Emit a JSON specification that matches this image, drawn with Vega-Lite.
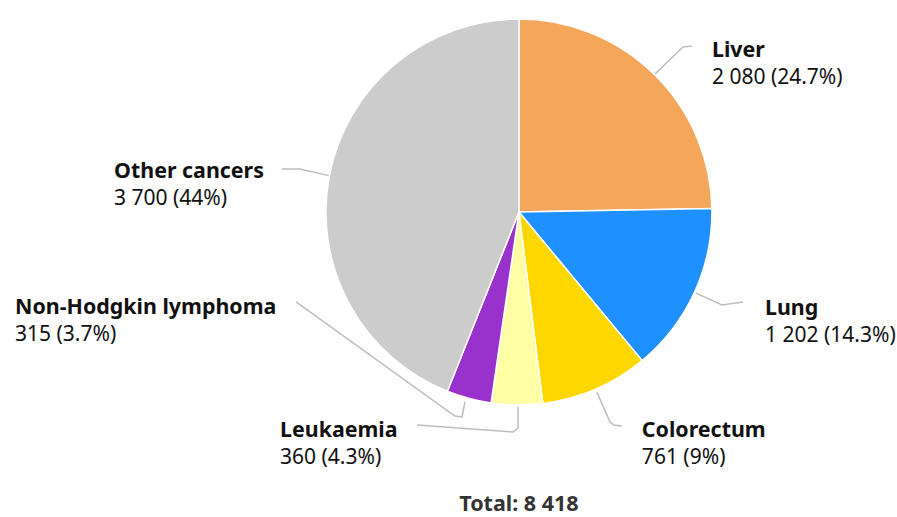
{
  "$schema": "https://vega.github.io/schema/vega-lite/v6.json",
  "width": 897,
  "height": 517,
  "padding": 0,
  "autosize": "none",
  "background": "white",
  "config": {"view": {"stroke": null}, "font": "Noto Sans"},
  "datasets": {
    "slices": [
      {"idx": 1, "name": "Liver", "value": 2080},
      {"idx": 2, "name": "Lung", "value": 1202},
      {"idx": 3, "name": "Colorectum", "value": 761},
      {"idx": 4, "name": "Leukaemia", "value": 360},
      {"idx": 5, "name": "Non-Hodgkin lymphoma", "value": 315},
      {"idx": 6, "name": "Other cancers", "value": 3700}
    ],
    "labels": [
      {"name": "Liver", "detail": "2 080 (24.7%)", "lx": 100.0, "ly": 80.3},
      {"name": "Lung", "detail": "1 202 (14.3%)", "lx": 127.5, "ly": -53.4},
      {"name": "Colorectum", "detail": "761 (9%)", "lx": 63.7, "ly": -116.6},
      {"name": "Leukaemia", "detail": "360 (4.3%)", "lx": -123.8, "ly": -116.6},
      {"name": "Non-Hodgkin lymphoma", "detail": "315 (3.7%)", "lx": -261.1, "ly": -52.8},
      {"name": "Other cancers", "detail": "3 700 (44%)", "lx": -209.8, "ly": 17.6}
    ],
    "leaders": [
      {"name": "Liver", "k": 1, "px": 70.5, "py": 71.5},
      {"name": "Liver", "k": 2, "px": 85.0, "py": 85.5},
      {"name": "Liver", "k": 3, "px": 89.6, "py": 86.0},
      {"name": "Lung", "k": 1, "px": 91.7, "py": -42.0},
      {"name": "Lung", "k": 2, "px": 105.2, "py": -48.2},
      {"name": "Lung", "k": 3, "px": 116.1, "py": -46.6},
      {"name": "Colorectum", "k": 1, "px": 40.4, "py": -93.3},
      {"name": "Colorectum", "k": 2, "px": 47.2, "py": -108.8},
      {"name": "Colorectum", "k": 3, "px": 49.2, "py": -110.4},
      {"name": "Colorectum", "k": 4, "px": 53.4, "py": -110.9},
      {"name": "Leukaemia", "k": 1, "px": -0.5, "py": -101.0},
      {"name": "Leukaemia", "k": 2, "px": -0.5, "py": -111.9},
      {"name": "Leukaemia", "k": 3, "px": -3.1, "py": -114.0},
      {"name": "Leukaemia", "k": 4, "px": -52.8, "py": -110.4},
      {"name": "Non-Hodgkin lymphoma", "k": 1, "px": -115.5, "py": -46.6},
      {"name": "Non-Hodgkin lymphoma", "k": 2, "px": -33.2, "py": -105.7},
      {"name": "Non-Hodgkin lymphoma", "k": 3, "px": -29.5, "py": -106.2},
      {"name": "Non-Hodgkin lymphoma", "k": 4, "px": -28.0, "py": -98.4},
      {"name": "Other cancers", "k": 1, "px": -122.8, "py": 22.3},
      {"name": "Other cancers", "k": 2, "px": -113.5, "py": 22.3},
      {"name": "Other cancers", "k": 3, "px": -97.9, "py": 18.7}
    ],
    "total": [{"label": "Total: 8 418", "tx": 0, "ty": -154.7}]
  },
  "layer": [
    {
      "data": {"name": "leaders"},
      "mark": {"type": "line", "color": "#BDBDBD", "strokeWidth": 1.5},
      "encoding": {
        "x": {"field": "px", "type": "quantitative", "scale": {"domain": [-268.9, 195.9], "nice": false, "zero": false}, "axis": null},
        "y": {"field": "py", "type": "quantitative", "scale": {"domain": [-158.0, 109.8], "nice": false, "zero": false}, "axis": null},
        "detail": {"field": "name"},
        "order": {"field": "k"}
      }
    },
    {
      "data": {"name": "slices"},
      "mark": {"type": "arc", "radius": 193, "stroke": "white", "strokeWidth": 1.5},
      "encoding": {
        "x": {"datum": 0, "type": "quantitative"},
        "y": {"datum": 0, "type": "quantitative"},
        "theta": {"field": "value", "type": "quantitative", "stack": true},
        "order": {"field": "idx", "type": "quantitative"},
        "color": {
          "field": "name",
          "type": "nominal",
          "scale": {
            "domain": ["Liver", "Lung", "Colorectum", "Leukaemia", "Non-Hodgkin lymphoma", "Other cancers"],
            "range": ["#F4A65A", "#1E90FF", "#FFD700", "#FFFFA6", "#9932CC", "#CCCCCC"]
          },
          "legend": null
        }
      }
    },
    {
      "data": {"name": "labels"},
      "mark": {"type": "text", "align": "left", "baseline": "alphabetic", "fontSize": 21.4, "fontWeight": "bold", "color": "#111111"},
      "encoding": {
        "x": {"field": "lx", "type": "quantitative"},
        "y": {"field": "ly", "type": "quantitative"},
        "text": {"field": "name"}
      }
    },
    {
      "data": {"name": "labels"},
      "mark": {"type": "text", "align": "left", "baseline": "alphabetic", "fontSize": 21, "dy": 27, "color": "#111111"},
      "encoding": {
        "x": {"field": "lx", "type": "quantitative"},
        "y": {"field": "ly", "type": "quantitative"},
        "text": {"field": "detail"}
      }
    },
    {
      "data": {"name": "total"},
      "mark": {"type": "text", "align": "center", "baseline": "alphabetic", "fontSize": 21.5, "fontWeight": "bold", "color": "#333333"},
      "encoding": {
        "x": {"field": "tx", "type": "quantitative"},
        "y": {"field": "ty", "type": "quantitative"},
        "text": {"field": "label"}
      }
    }
  ]
}
